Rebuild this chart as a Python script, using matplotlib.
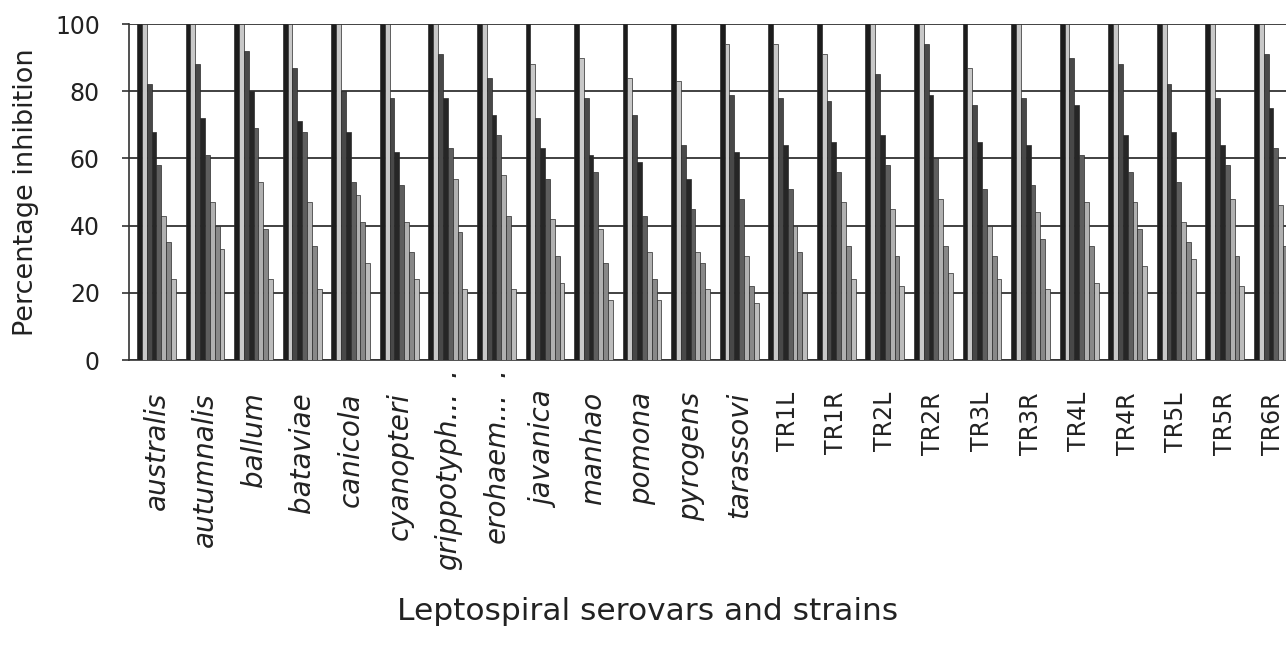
import matplotlib
matplotlib.use("Agg")
import matplotlib.pyplot as plt
import matplotlib.transforms as mtransforms
import numpy as np

categories = ["australis", "autumnalis", "ballum", "bataviae", "canicola", "cyanopteri",
              "grippotyph...", "erohaem...", "javanica", "manhao", "pomona", "pyrogens",
              "tarassovi", "TR1L", "TR1R", "TR2L", "TR2R", "TR3L", "TR3R", "TR4L",
              "TR4R", "TR5L", "TR5R", "TR6R"]
italic_flags = [True] * 13 + [False] * 11
truncated = ["grippotyph...", "erohaem..."]

s1 = [100] * 24
s2 = [100, 100, 100, 100, 100, 100, 100, 100, 88, 90, 84, 83, 94, 94, 91, 100, 100, 87, 100, 100, 100, 100, 100, 100]
s3 = [82, 88, 92, 87, 80, 78, 91, 84, 72, 78, 73, 64, 79, 78, 77, 85, 94, 76, 78, 90, 88, 82, 78, 91]
s4 = [68, 72, 80, 71, 68, 62, 78, 73, 63, 61, 59, 54, 62, 64, 65, 67, 79, 65, 64, 76, 67, 68, 64, 75]
s5 = [58, 61, 69, 68, 53, 52, 63, 67, 54, 56, 43, 45, 48, 51, 56, 58, 60, 51, 52, 61, 56, 53, 58, 63]
s6 = [43, 47, 53, 47, 49, 41, 54, 55, 42, 39, 32, 32, 31, 40, 47, 45, 48, 40, 44, 47, 47, 41, 48, 46]
s7 = [35, 40, 39, 34, 41, 32, 38, 43, 31, 29, 24, 29, 22, 32, 34, 31, 34, 31, 36, 34, 39, 35, 31, 34]
s8 = [24, 33, 24, 21, 29, 24, 21, 21, 23, 18, 18, 21, 17, 20, 24, 22, 26, 24, 21, 23, 28, 30, 22, 22]
series = [s1, s2, s3, s4, s5, s6, s7, s8]
colors = ["#1c1c1c", "#c8c8c8", "#484848", "#262626", "#5e5e5e", "#b0b0b0", "#888888", "#bcbcbc"]
yticks = [0, 20, 40, 60, 80, 100]

plt.rcParams["font.family"] = ["DejaVu Sans"]

fig = plt.figure(figsize=(12.86, 6.46), dpi=100)
ax = fig.add_axes([129 / 1286, 1 - 360 / 646, 1 - 129 / 1286 + 0.01, (360 - 24) / 646])

x = np.arange(len(categories))
w = 0.1
for j, (vals, c) in enumerate(zip(series, colors)):
    ax.bar(x + (j - 3.5) * w, vals, width=w, color=c, edgecolor="#2a2a2a",
           linewidth=0.5, zorder=3)

ax.set_ylim(0, 100)
ax.set_xlim(-0.565, 23.26 + 0.01 * 1286 / 48.56)
ax.set_yticks(yticks)
ax.yaxis.grid(True, color="#333333", linewidth=1.3, zorder=0)
ax.set_axisbelow(True)
for s in ["top", "right"]:
    ax.spines[s].set_visible(False)
for s in ["left", "bottom"]:
    ax.spines[s].set_color("#333333")
    ax.spines[s].set_linewidth(1.2)

ax.tick_params(axis="y", direction="out", length=5, width=1.2, color="#333333",
               labelsize=17, pad=16, labelcolor="#222222")
ax.set_xticks(x)
ax.set_xticklabels(categories, rotation=90, color="#222222")
for lbl, it in zip(ax.get_xticklabels(), italic_flags):
    if it:
        lbl.set_style("italic")
        lbl.set_fontsize(20)
    else:
        lbl.set_fontsize(17)
ax.tick_params(axis="x", length=0, pad=23)

trans = mtransforms.blended_transform_factory(ax.transData, fig.transFigure)
for i, name in enumerate(categories):
    if name in truncated:
        ax.text(i, 1 - 368 / 646, ".", transform=trans, fontsize=20, style="italic",
                rotation=90, ha="center", va="top", color="#222222")

ax.set_ylabel("Percentage inhibition", fontsize=19.5, color="#222222")
ax.yaxis.set_label_coords(-0.077, 0.5)
fig.text(648 / 1286, 1 - 612 / 646, "Leptospiral serovars and strains",
         fontsize=22.5, ha="center", va="center", color="#222222")

fig.savefig("out.png", dpi=100)
